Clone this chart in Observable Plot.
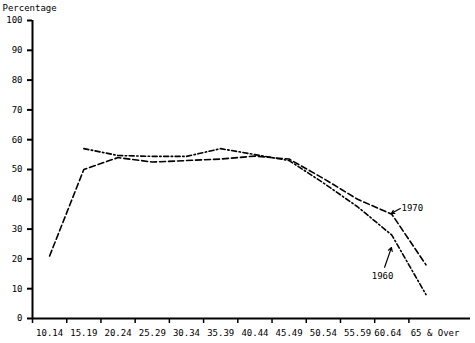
<!DOCTYPE html>
<html>
<head>
<meta charset="utf-8">
<script src="https://cdn.jsdelivr.net/npm/d3@7"></script>
<script src="https://cdn.jsdelivr.net/npm/@observablehq/plot@0.6"></script>
<style>
  html, body { margin: 0; padding: 0; background: #fff; }
</style>
</head>
<body>
<div id="chart"></div>
<script>
const ageGroups = ["10.14", "15.19", "20.24", "25.29", "30.34", "35.39", "40.44", "45.49", "50.54", "55.59", "60.64", "65 & Over"];
const pct1970 = [21, 50, 54, 52.5, 53, 53.5, 54.5, 53.5, 47, 40, 35, 18];
const pct1960 = [null, 57, 54.7, 54.4, 54.4, 57, 55, 53, 45.5, 37.5, 28, 8];
const yTicks = [0, 10, 20, 30, 40, 50, 60, 70, 80, 90, 100];
const yLabel = "Percentage";
// annotation labels and arrows (data units: x = age group index, y = percentage)
const labels = [
  { text: "1970", x: 10.6, y: 37.2 },
  { text: "1960", x: 9.73, y: 14.2 }
];
const arrows = [
  { x1: 10.25, y1: 36.9, x2: 9.99, y2: 35.3 },
  { x1: 9.79, y1: 17.2, x2: 9.99, y2: 23.8 }
];

const idx = ageGroups.map((d, i) => i);
const s1970 = idx.map(i => ({ i, v: pct1970[i] }));
const s1960 = idx.filter(i => pct1960[i] != null).map(i => ({ i, v: pct1960[i] }));
const bounds = idx.map(i => i - 0.5);
const last = idx.length - 1;

const chart = Plot.plot({
  width: 475,
  height: 343,
  marginLeft: 32,
  marginRight: 5,
  marginTop: 20,
  marginBottom: 25,
  style: { fontFamily: "'DejaVu Sans Mono', monospace", fontSize: "9px", color: "#000", background: "#fff" },
  x: { type: "linear", domain: [-0.5, 12.3], axis: null },
  y: { domain: [0, 100], axis: null },
  marks: [
    Plot.axisY({ ticks: yTicks, tickSize: 5, tickPadding: 5, strokeWidth: 2, label: null }),
    Plot.axisX({ ticks: bounds, tickSize: 5, strokeWidth: 1.5, tickFormat: () => "", label: null }),
    Plot.axisX({ ticks: idx.slice(0, last - 1), tickSize: 0, tickPadding: 11, tickFormat: i => ageGroups[i], label: null }),
    Plot.axisX({ ticks: [last - 1], tickSize: 0, tickPadding: 11, dx: -4, tickFormat: i => ageGroups[i], label: null }),
    Plot.axisX({ ticks: [last], tickSize: 0, tickPadding: 11, dx: 9, tickFormat: i => ageGroups[i], label: null }),
    Plot.ruleY([0], { strokeWidth: 2 }),
    Plot.ruleX([-0.5], { y1: 0, y2: 100, strokeWidth: 2 }),
    Plot.line(s1970, { x: "i", y: "v", stroke: "#000", strokeWidth: 1.6, strokeDasharray: "6,3" }),
    Plot.line(s1960, { x: "i", y: "v", stroke: "#000", strokeWidth: 1.6, strokeDasharray: "5,2.5,1.5,2.5" }),
    Plot.arrow(arrows, { x1: "x1", y1: "y1", x2: "x2", y2: "y2", stroke: "#000", strokeWidth: 1.2, headLength: 5 }),
    Plot.text(labels, { x: "x", y: "y", text: "text", fill: "#000" }),
    Plot.text([yLabel], { frameAnchor: "top-left", dx: -30, dy: -12, lineAnchor: "middle", textAnchor: "start", fill: "#000" })
  ]
});
document.getElementById("chart").appendChild(chart);
</script>
</body>
</html>
